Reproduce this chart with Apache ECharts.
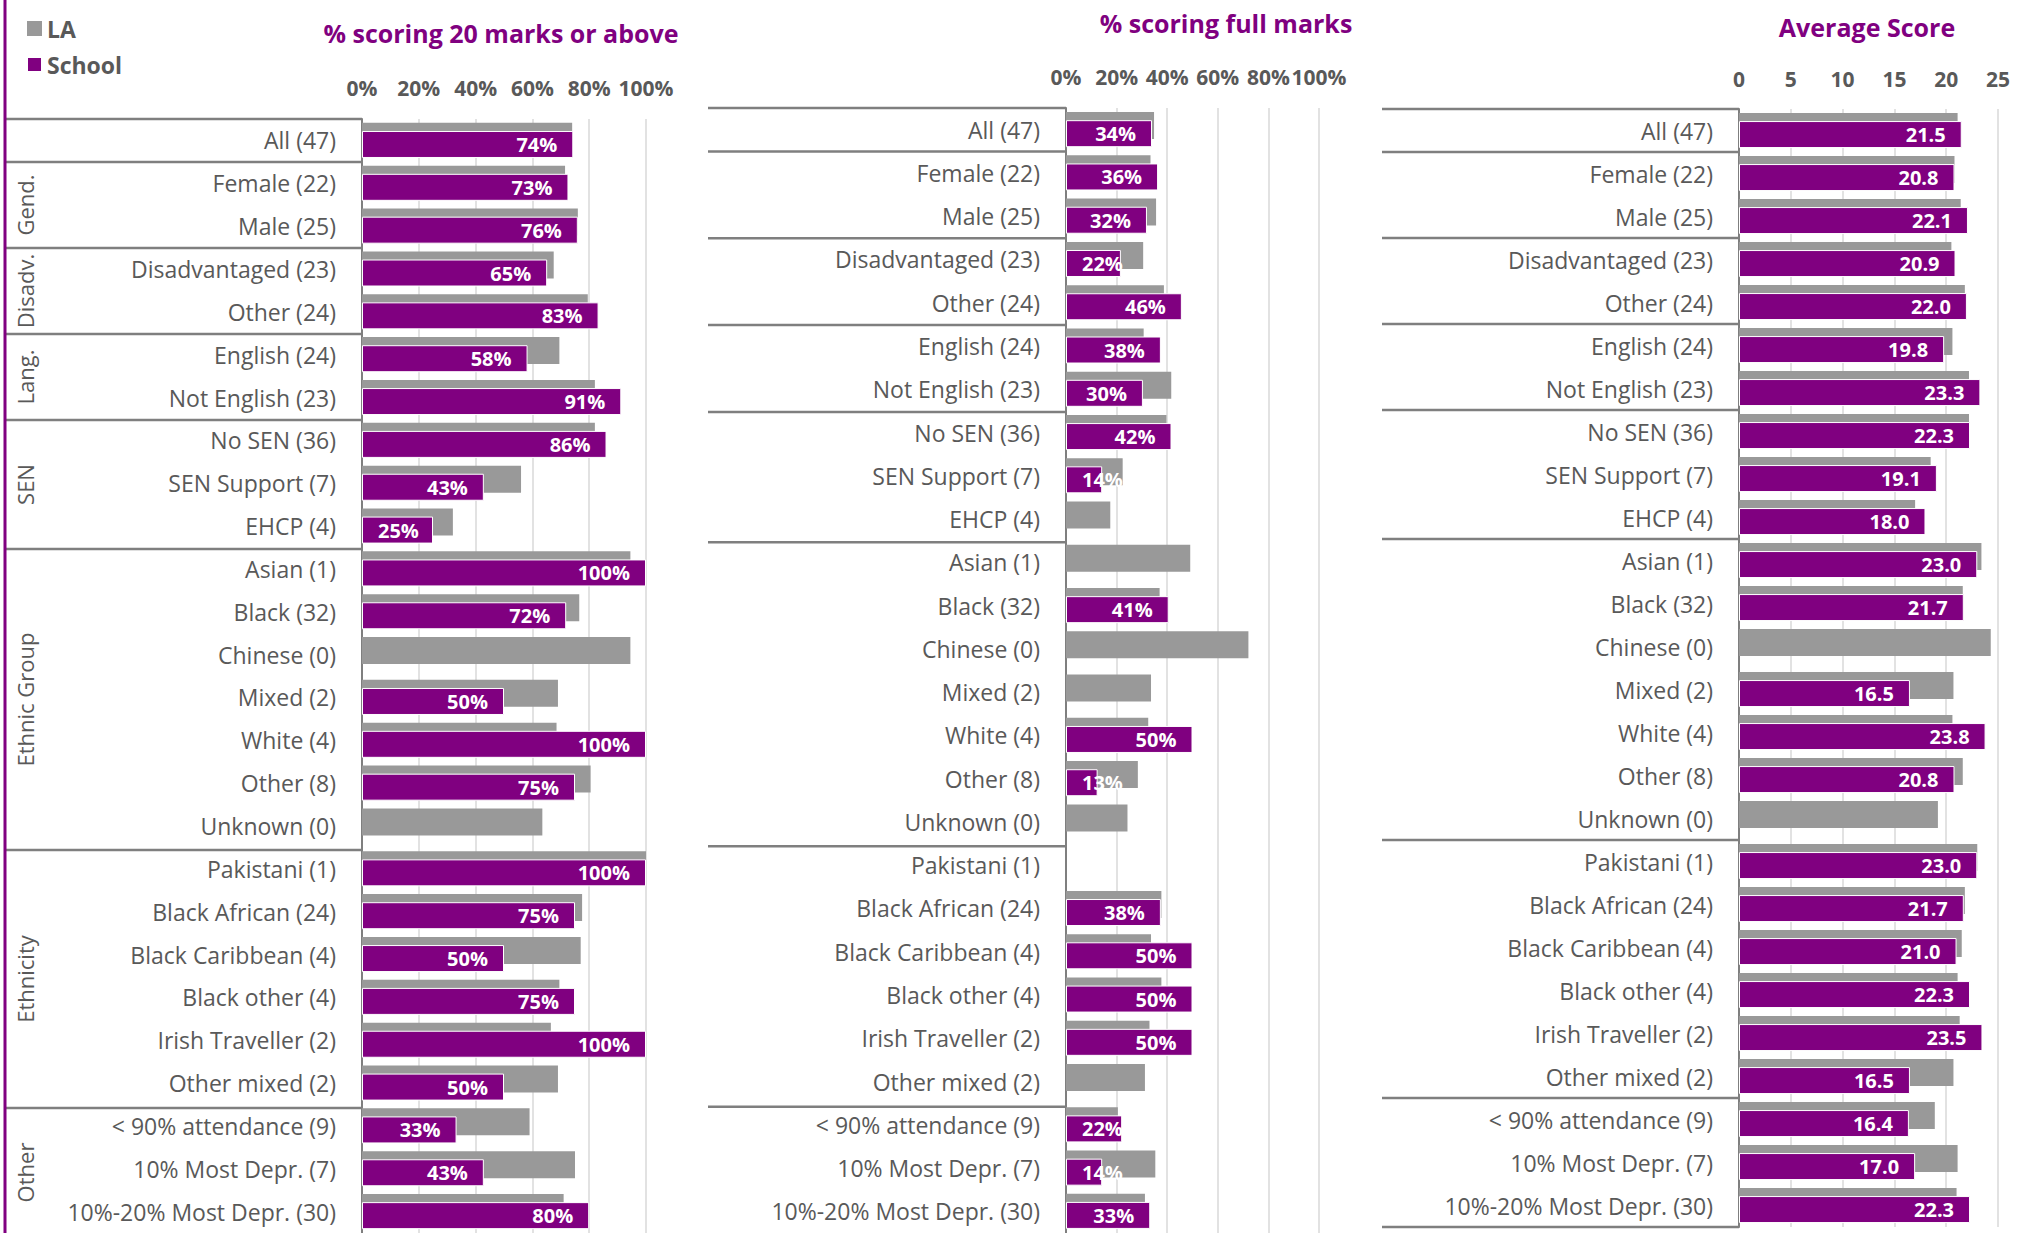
<!DOCTYPE html>
<html><head><meta charset="utf-8">
<script src="https://cdn.jsdelivr.net/npm/echarts@6/dist/echarts.min.js"></script>
<style>html,body{margin:0;padding:0;background:#fff}#c{width:2033px;height:1233px}</style>
</head><body><div id="c"></div>
<script>
// ---------- DATA ----------
const categories = ['All (47)','Female (22)','Male (25)','Disadvantaged (23)','Other (24)','English (24)','Not English (23)',
  'No SEN (36)','SEN Support (7)','EHCP (4)','Asian (1)','Black (32)','Chinese (0)','Mixed (2)','White (4)','Other (8)','Unknown (0)',
  'Pakistani (1)','Black African (24)','Black Caribbean (4)','Black other (4)','Irish Traveller (2)','Other mixed (2)',
  '< 90% attendance (9)','10% Most Depr. (7)','10%-20% Most Depr. (30)'];
const groupNames = ['', 'Gend.', 'Disadv.', 'Lang.', 'SEN', 'Ethnic Group', 'Ethnicity', 'Other'];
const groupSizes = [1, 2, 2, 2, 3, 7, 6, 3];
const seriesNames = ['LA', 'School'];
const panelTitles = ['% scoring 20 marks or above', '% scoring full marks', 'Average Score'];

// % scoring 20 marks or above
const la20 = [74,71.5,76,67.5,79.5,69.5,82,82,56,32,94.5,76.5,94.5,69,68.5,80.5,63.5,100,77.5,77,69.5,66.5,69,59,75,71];
const school20 = [74.4,72.7,76,65.2,83.3,58.3,91.3,86.1,42.9,25,100,71.9,null,50,100,75,null,100,75,50,75,100,50,33.3,42.9,80];
// % scoring full marks
const laFull = [34.8,33.4,35.6,30.5,38.7,30.7,41.6,39.7,22.4,17.5,49.1,37,72.1,33.6,32.5,28.4,24.3,0,37.7,33.6,37.7,33,31.2,20.5,35.3,31.2];
const schoolFull = [34,36.4,32,21.7,45.8,37.5,30.4,41.7,14.3,0,0,40.6,null,0,50,12.5,null,0,37.5,50,50,50,0,22.2,14.3,33.3];
// Average score
const laAvg = [21.1,20.8,21.4,20.5,21.8,20.6,22.2,22.2,18.5,17.0,23.4,21.6,24.3,20.7,20.6,21.6,19.2,23.0,21.8,21.5,21.1,21.3,20.7,18.9,21.1,21.0];
const schoolAvg = [21.5,20.8,22.1,20.9,22.0,19.8,23.3,22.3,19.1,18.0,23.0,21.7,null,16.5,23.8,20.8,null,23.0,21.7,21.0,22.3,23.5,16.5,16.4,17.0,22.3];

// ---------- STYLE / LAYOUT ----------
const FONT = '"Open Sans", "Noto Sans", sans-serif';
const PURPLE = '#800080', GREY = '#999999', TXT = '#595959', SEP = '#7f7f7f';
const pctFmt = v => Math.round(v) + '%';
const avgFmt = v => v.toFixed(1);
const panels = [
  {la: la20, school: school20, max: 100, interval: 20, fmt: pctFmt, axisFmt: '{value}%',
   grid: {left: 362, width: 284, top: 119, height: 1118}, boxLeft: 6, title: {x: 501, y: 33}, tickMargin: 21},
  {la: laFull, school: schoolFull, max: 100, interval: 20, fmt: pctFmt, axisFmt: '{value}%',
   grid: {left: 1066, width: 253, top: 108, height: 1129}, boxLeft: 708, title: {x: 1226, y: 23}, tickMargin: 21},
  {la: laAvg, school: schoolAvg, max: 25, interval: 5, fmt: avgFmt, axisFmt: '{value}',
   grid: {left: 1739, width: 259, top: 109, height: 1118}, boxLeft: 1382, title: {x: 1867, y: 27}, tickMargin: 20}
];
const LABEL_FONT = 'bold 20px ' + FONT;
const LABEL_DIST = 16;
const ctx = document.createElement('canvas').getContext('2d');
function textW(t, f) { ctx.font = f; return ctx.measureText(t).width; }

function schoolData(p) {
  return p.school.map(v => {
    if (v === null) return null;
    const item = {value: v};
    if (v === 0) { item.label = {show: false}; item.itemStyle = {borderWidth: 0}; return item; }
    const px = v / p.max * p.grid.width;
    if (px < textW(p.fmt(v), LABEL_FONT) + 2 * LABEL_DIST) item.label = {position: 'insideLeft'};
    return item;
  });
}

const grids = [], xAxes = [], yAxes = [], series = [], graphics = [];
const bounds = [0];
groupSizes.forEach(s => bounds.push(bounds[bounds.length - 1] + s));

panels.forEach((p, i) => {
  grids.push(Object.assign({containLabel: false}, p.grid));
  xAxes.push({type: 'value', gridIndex: i, position: 'top', min: 0, max: p.max, interval: p.interval,
    axisLine: {show: false}, axisTick: {show: false},
    splitLine: {show: true, lineStyle: {color: '#d9d9d9', width: 1.5}},
    axisLabel: {formatter: p.axisFmt, color: TXT, fontFamily: FONT, fontSize: 21, fontWeight: 'bold', margin: p.tickMargin}});
  yAxes.push({type: 'category', gridIndex: i, inverse: true, data: categories,
    axisLine: {show: true, lineStyle: {color: SEP, width: 2}}, axisTick: {show: false},
    axisLabel: {color: TXT, fontFamily: FONT, fontSize: 23, margin: 26}});
  series.push({name: seriesNames[0], type: 'bar', xAxisIndex: i, yAxisIndex: i, data: p.la,
    barWidth: 27, barGap: '-70%', itemStyle: {color: GREY}, silent: true});
  series.push({name: seriesNames[1], type: 'bar', xAxisIndex: i, yAxisIndex: i, data: schoolData(p),
    barWidth: 27, barGap: '-70%', itemStyle: {color: PURPLE, borderColor: '#ffffff', borderWidth: 1}, silent: true,
    label: {show: true, position: 'insideRight', distance: LABEL_DIST, color: '#ffffff', fontFamily: FONT,
      fontSize: 20, fontWeight: 'bold', formatter: d => (d.value === null || d.value === undefined) ? '' : p.fmt(d.value)}});
  // separators
  const rowH = p.grid.height / categories.length;
  bounds.forEach(b => {
    const y = p.grid.top + b * rowH;
    graphics.push({type: 'line', silent: true, z: 10,
      shape: {x1: p.boxLeft, y1: y, x2: p.grid.left, y2: y}, style: {stroke: SEP, lineWidth: 2.5}});
  });
  // title
  graphics.push({type: 'text', silent: true, x: p.title.x, y: p.title.y,
    style: {text: panelTitles[i], fill: PURPLE, font: 'bold 25px ' + FONT,
      align: 'center', verticalAlign: 'middle', textAlign: 'center', textVerticalAlign: 'middle'}});
  // group labels (first panel only)
  if (i === 0) {
    groupNames.forEach((g, k) => {
      if (!g) return;
      const yc = p.grid.top + (bounds[k] + bounds[k + 1]) / 2 * rowH;
      graphics.push({type: 'text', silent: true, x: 24.5, y: yc, rotation: Math.PI / 2,
        style: {text: g, fill: TXT, font: '22px ' + FONT,
          align: 'center', verticalAlign: 'middle', textAlign: 'center', textVerticalAlign: 'middle'}});
    });
  }
});
// purple left border
graphics.push({type: 'line', silent: true, z: 11, shape: {x1: 5, y1: 0, x2: 5, y2: 1233}, style: {stroke: PURPLE, lineWidth: 3}});

const chart = echarts.init(document.getElementById('c'), null, {renderer: 'svg'});
chart.setOption({
  animation: false,
  backgroundColor: '#ffffff',
  textStyle: {fontFamily: FONT},
  legend: {data: seriesNames, orient: 'vertical', left: 21, top: 12, itemWidth: 15, itemHeight: 15, itemGap: 13,
    icon: 'rect', selectedMode: false,
    textStyle: {fontFamily: FONT, fontSize: 23, fontWeight: 'bold', color: TXT}},
  grid: grids, xAxis: xAxes, yAxis: yAxes, series: series, graphic: graphics
});
</script></body></html>
